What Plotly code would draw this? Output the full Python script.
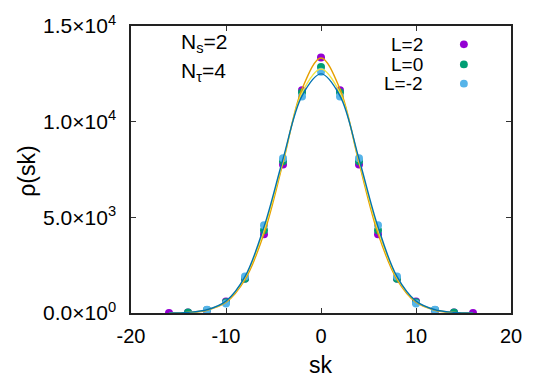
import plotly.graph_objects as go

# ---- data ----
sk_L2 = [-16, -14, -12, -10, -8, -6, -4, -2, 0, 2, 4, 6, 8, 10, 12, 14, 16]
rho_L2 = [3, 20, 150, 600, 1800, 4110, 7760, 11640, 13360, 11640, 7760, 4110, 1800, 600, 150, 20, 3]

sk_L0 = [-14, -12, -10, -8, -6, -4, -2, 0, 2, 4, 6, 8, 10, 12, 14]
rho_L0 = [25, 160, 560, 1790, 4330, 7930, 11520, 12860, 11520, 7930, 4330, 1790, 560, 160, 25]

sk_Lm2 = [-12, -10, -8, -6, -4, -2, 0, 2, 4, 6, 8, 10, 12]
rho_Lm2 = [170, 490, 1910, 4580, 8090, 11320, 12610, 11320, 8090, 4580, 1910, 490, 170]

# fitted curves
sk_fit = [-16, -14, -12, -10, -8, -6, -4, -2, 0, 2, 4, 6, 8, 10, 12, 14, 16]
fit_L2 = [3, 25, 140, 560, 1750, 4150, 7850, 11700, 13330, 11700, 7850, 4150, 1750, 560, 140, 25, 3]
fit_L0 = [5, 30, 160, 600, 1850, 4350, 7950, 11500, 12750, 11500, 7950, 4350, 1850, 600, 160, 30, 5]
fit_Lm2 = [6, 35, 170, 620, 1900, 4500, 8050, 11350, 12500, 11350, 8050, 4500, 1900, 620, 170, 35, 6]

labels = ["L=2", "L=0", "L=-2"]
point_colors = ["#9400d3", "#009e73", "#56b4e9"]
fit_colors = ["#e69f00", "#f0e442", "#0072b2"]

xtick_vals = [-20, -10, 0, 10, 20]
xtick_text = ["-20", "-10", "0", "10", "20"]
ytick_vals = [0, 5000, 10000, 15000]
ytick_text = ["0.0×10<sup>0</sup>", "5.0×10<sup>3</sup>", "1.0×10<sup>4</sup>", "1.5×10<sup>4</sup>"]

FONT = "Liberation Sans, Arial, sans-serif"
PW, PH = 387, 299  # plot area size in px

fig = go.Figure()
for xs, ys, c in zip([sk_L2, sk_L0, sk_Lm2], [rho_L2, rho_L0, rho_Lm2], point_colors):
    fig.add_trace(go.Scatter(x=xs, y=ys, mode="markers",
                             marker=dict(color=c, size=8), showlegend=False))
for ys, c in zip([fit_L2, fit_L0, fit_Lm2], fit_colors):
    fig.add_trace(go.Scatter(x=sk_fit, y=ys, mode="lines",
                             line=dict(color=c, width=1.4, shape="spline", smoothing=1.0),
                             showlegend=False))

# legend (gnuplot style: text right-aligned, marker to the right)
leg_y = [0.936, 0.866, 0.799]
for lab, c, yy in zip(labels, point_colors, leg_y):
    fig.add_annotation(x=0.773, y=yy, xref="paper", yref="paper", text=lab,
                       showarrow=False, xanchor="right", yanchor="middle",
                       font=dict(family=FONT, size=19, color="black"))
    rx, ry = 4 / PW, 4 / PH
    fig.add_shape(type="circle", xref="paper", yref="paper",
                  x0=0.876 - rx, x1=0.876 + rx, y0=yy - ry, y1=yy + ry,
                  fillcolor=c, line=dict(width=0))

fig.add_annotation(x=0.127, y=0.94, xref="paper", yref="paper", text="N<sub>s</sub>=2",
                   showarrow=False, xanchor="left", yanchor="middle",
                   font=dict(family=FONT, size=21, color="black"))
fig.add_annotation(x=0.127, y=0.84, xref="paper", yref="paper", text="N<sub>τ</sub>=4",
                   showarrow=False, xanchor="left", yanchor="middle",
                   font=dict(family=FONT, size=21, color="black"))

# axis titles
fig.add_annotation(x=0.5, y=-0.181, xref="paper", yref="paper", text="sk",
                   showarrow=False, xanchor="center", yanchor="middle",
                   font=dict(family=FONT, size=23, color="black"))
fig.add_annotation(x=(25 - 131) / PW, y=0.495, xref="paper", yref="paper", text="ρ(sk)",
                   showarrow=False, xanchor="center", yanchor="middle", textangle=-90,
                   font=dict(family=FONT, size=23, color="black"))

fig.update_xaxes(range=[-20, 20], tickvals=xtick_vals, ticktext=xtick_text,
                 ticks="inside", ticklen=5, tickcolor="#333", mirror="allticks",
                 showline=True, linecolor="#222", linewidth=1.5, showgrid=False,
                 zeroline=False, ticklabelstandoff=4, ticklabeloverflow="allow",
                 tickfont=dict(family=FONT, size=20, color="black"))
fig.update_yaxes(range=[0, 15000], tickvals=ytick_vals, ticktext=ytick_text,
                 ticks="inside", ticklen=5, tickcolor="#333", mirror="allticks",
                 showline=True, linecolor="#222", linewidth=1.5, showgrid=False,
                 zeroline=False, ticklabelstandoff=9, ticklabeloverflow="allow",
                 tickfont=dict(family=FONT, size=21, color="black"))

fig.update_layout(width=534, height=385, margin=dict(l=131, r=16, t=14, b=72),
                  plot_bgcolor="white", paper_bgcolor="white", showlegend=False)

fig.write_html("out.html")
